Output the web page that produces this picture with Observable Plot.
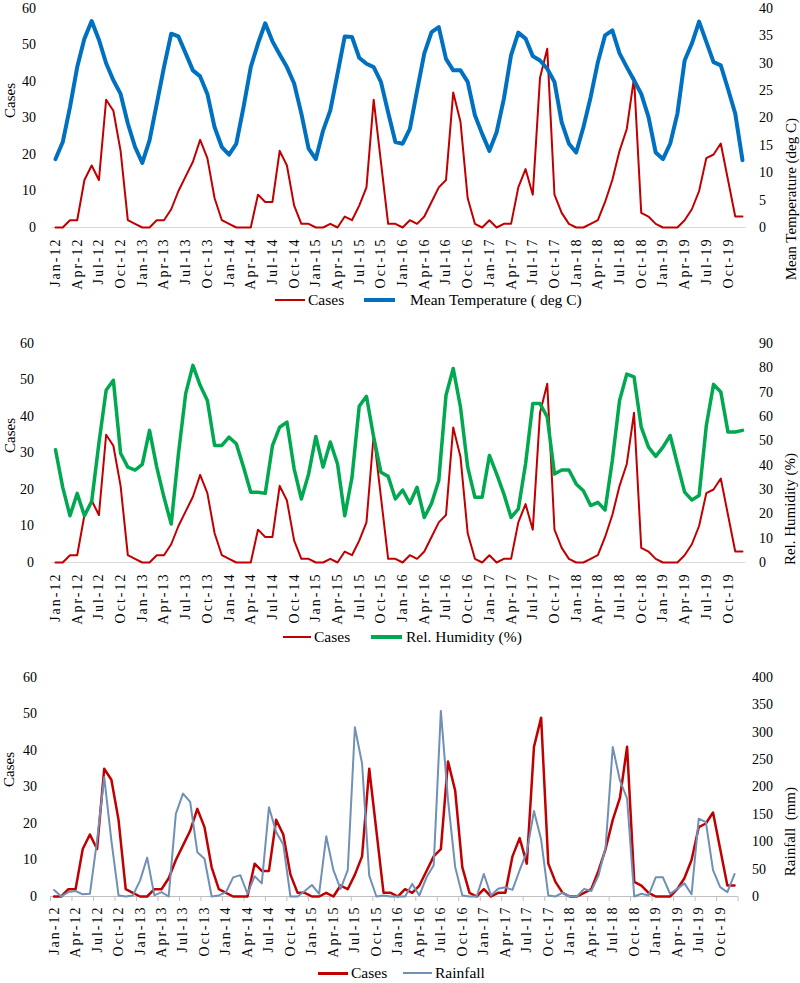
<!DOCTYPE html>
<html><head><meta charset="utf-8">
<script src="https://cdn.jsdelivr.net/npm/d3@7"></script>
<script src="https://cdn.jsdelivr.net/npm/@observablehq/plot@0.6"></script>
<style>
body{margin:0;background:#fff;width:800px;height:983px;position:relative;overflow:hidden;font-family:"Liberation Serif","Times New Roman",serif;}
.layer{position:absolute;left:0;}
.layer svg{display:block;overflow:visible;}
.lg{position:absolute;font-size:15.5px;color:#000;white-space:nowrap;line-height:1;}
.sw{position:absolute;}
g[aria-label="x-axis tick label"] text{letter-spacing:2px;}
</style></head><body>
<script>
// ---- data ----
const monthNames = ["Jan","Feb","Mar","Apr","May","Jun","Jul","Aug","Sep","Oct","Nov","Dec"];
const years = ["12","13","14","15","16","17","18","19"];
const months = years.flatMap(y => monthNames.map(m => `${m}-${y}`));

const cases = [0,0,2,2,13,17,13,35,32,21,2,1,
  0,0,2,2,5,10,14,18,24,19,8,2,
  1,0,0,0,9,7,7,21,17,6,1,1,
  0,0,1,0,3,2,6,11,35,18,1,1,
  0,2,1,3,7,11,13,37,29,8,1,0,
  2,0,1,1,11,16,9,41,49,9,4,1,
  0,0,1,2,7,13,21,27,41,4,3,1,
  0,0,0,2,5,10,19,20,23,13,3,3];

const temperature = [12.5,15.6,22,29.3,34.5,37.7,34.3,30,26.9,24.4,19,14.7,
  11.8,15.9,22.6,29.3,35.4,34.9,31.8,28.7,27.6,24.4,18.3,14.7,
  13.3,15.3,22,29.3,33.6,37.3,34,31.6,29.3,26.3,20.8,14.4,
  12.5,17.7,21.4,28.1,34.9,34.8,31,29.9,29.3,26.6,21,15.6,
  15.3,18,25,31.8,35.7,36.6,30.8,28.7,28.7,26.6,20.5,17.1,
  14,17.4,23.5,31.5,35.6,34.5,31.3,30.5,29,26.6,19.2,15.3,
  13.7,18.3,23.8,30.2,35.1,36,31.8,29.3,26.9,24.4,20.2,13.7,
  12.5,15.3,20.8,30.5,33.6,37.6,33.9,30.2,29.6,25.3,20.8,12.3];

const humidity = [46.3,30.9,19.2,28.4,19.2,25.1,49,70.8,74.9,44.9,39.2,38,
  40.3,54.3,39.2,26.8,15.8,44.7,69.4,81,72.8,66.6,48.1,48.1,
  51.5,48.8,39.2,28.9,28.9,28.4,48,55.6,57.7,38.5,26.1,36.4,
  51.8,39.2,49.5,40.5,19.2,35,64.2,68.3,51.5,37.1,35.4,26.1,
  29.8,24.3,30.9,18.5,24.3,33.7,68.7,79.7,63.9,39.2,26.8,26.8,
  44,36.4,28.2,18.5,22,40.5,65.3,65.3,59.8,36.4,38,38,
  32.3,29.5,23.4,24.7,21.6,41.9,66.6,77.4,76.3,55.6,47.4,43.6,
  47.4,52.2,40.5,28.9,25.7,27.5,56.3,73.2,70.1,53.6,53.6,54.3];

const rainfall = [12,0,8,10,4,5,102,218,102,2,0,2,
  29,71,2,8,0,151,188,173,81,69,0,2,
  8,35,39,5,37,24,163,118,95,0,0,10,
  21,5,110,48,14,48,309,243,38,0,2,0,
  0,0,23,2,35,57,339,176,54,2,0,0,
  41,2,14,17,12,48,81,156,104,2,0,7,
  0,0,14,10,38,90,273,212,179,0,5,2,
  35,35,5,14,24,4,142,136,48,17,8,41];

const caseTicks = [0,10,20,30,40,50,60];
const tempTicks = [0,5,10,15,20,25,30,35,40];
const humTicks = [0,10,20,30,40,50,60,70,80,90];
const rainTicks = [0,50,100,150,200,250,300,350,400];
const labelIdx = months.map((m,i)=>i).filter(i => i % 3 === 0);

const table = months.map((m,i)=>({i, month:m, cases:cases[i], temp:temperature[i], hum:humidity[i], rain:rainfall[i]}));

const FONT = '"Liberation Serif","Times New Roman",serif';
const W = 800, H = 290;

function addLayer(top, svg){
  const d = document.createElement("div");
  d.className = "layer"; d.style.top = top + "px";
  d.appendChild(svg); document.body.appendChild(d);
}

function panel(o){
  const common = {
    width: W, height: H, marginTop: 8, marginBottom: H - 8 - 219,
    marginLeft: o.mL, marginRight: o.mR,
    style: {fontFamily: FONT, fontSize: "14px", background: "transparent", overflow: "visible", color: "#000"},
    x: {type: "linear", domain: [-0.5, 95.5]}
  };
  const primaryMarks = [
    Plot.ruleY([0], {stroke: o.axisColor, strokeWidth: 1}),
    Plot.axisY({ticks: caseTicks, tickSize: 0, tickPadding: o.leftPad, label: null}),
    Plot.axisX({ticks: labelIdx, tickFormat: i => months[i], tickSize: 0, tickRotate: -90, tickPadding: o.xPad, label: null}),
    Plot.text(["Cases"], {frameAnchor: "left", dx: o.leftTitleDx, rotate: -90, fontSize: 15}),
    Plot.line(table, {x: "i", y: "cases", stroke: "#C00000", strokeWidth: o.caseWidth})
  ];
  if (o.ticks) primaryMarks.splice(1, 0,
    Plot.axisX({ticks: labelIdx.map(i => i - 0.5).concat([95.5]), tickSize: 5, tickFormat: () => "", stroke: o.axisColor, label: null}));
  addLayer(o.top, Plot.plot({...common, y: {domain: [0, 60]}, marks: primaryMarks}));
  addLayer(o.top, Plot.plot({...common,
    x: {type: "linear", domain: [-0.5, 95.5], axis: null},
    y: {domain: [0, o.secMax]},
    marks: [
      Plot.axisY({anchor: "right", ticks: o.secTicks, tickSize: 0, tickPadding: o.rightPad, label: null}),
      Plot.text([o.secTitle], {frameAnchor: "right", dx: o.rightTitleDx, rotate: -90, fontSize: 15}),
      Plot.line(table, {x: "i", y: o.secKey, stroke: o.secColor, strokeWidth: o.secWidth})
    ]}));
}

function legend(y, items){
  for (const it of items){
    const s = document.createElement("div");
    s.className = "sw";
    s.style.left = it.x1 + "px"; s.style.width = (it.x2 - it.x1) + "px";
    s.style.top = (y - it.w/2) + "px"; s.style.height = it.w + "px";
    s.style.background = it.color;
    document.body.appendChild(s);
    const t = document.createElement("div");
    t.className = "lg"; t.textContent = it.label;
    t.style.left = it.tx + "px"; t.style.top = (y - 8) + "px";
    document.body.appendChild(t);
  }
}

panel({top: 0, mL: 51.4, mR: 54.4, leftPad: 16, rightPad: 13, xPad: 10, leftTitleDx: -42, rightTitleDx: 45,
  caseWidth: 2, secKey: "temp", secMax: 40, secTicks: tempTicks, secColor: "#0070C0", secWidth: 4,
  secTitle: "Mean Temperature (deg C)", axisColor: "#d9d9d9", ticks: false});
legend(300, [
  {x1: 275, x2: 305, w: 2.5, color: "#C00000", label: "Cases", tx: 308},
  {x1: 364, x2: 395, w: 4, color: "#0070C0", label: "Mean Temperature ( deg C)", tx: 410}
]);

panel({top: 335, mL: 51.4, mR: 54.4, leftPad: 18, rightPad: 13, xPad: 10, leftTitleDx: -42, rightTitleDx: 44,
  caseWidth: 2, secKey: "hum", secMax: 90, secTicks: humTicks, secColor: "#00A84F", secWidth: 3.5,
  secTitle: "Rel. Humidity (%)", axisColor: "#d9d9d9", ticks: false});
legend(637, [
  {x1: 283, x2: 311, w: 2.5, color: "#C00000", label: "Cases", tx: 314},
  {x1: 371, x2: 402, w: 4, color: "#00A84F", label: "Rel. Humidity (%)", tx: 406}
]);

panel({top: 669, mL: 50, mR: 62.4, leftPad: 13.5, rightPad: 14, xPad: 9, leftTitleDx: -41, rightTitleDx: 52,
  caseWidth: 2.5, secKey: "rain", secMax: 400, secTicks: rainTicks, secColor: "#7090B5", secWidth: 2,
  secTitle: "Rainfall  (mm)", axisColor: "#bfbfbf", ticks: true});
legend(973, [
  {x1: 318, x2: 348, w: 3, color: "#C00000", label: "Cases", tx: 351},
  {x1: 403, x2: 432, w: 2.5, color: "#7090B5", label: "Rainfall", tx: 435}
]);
</script>
</body></html>
